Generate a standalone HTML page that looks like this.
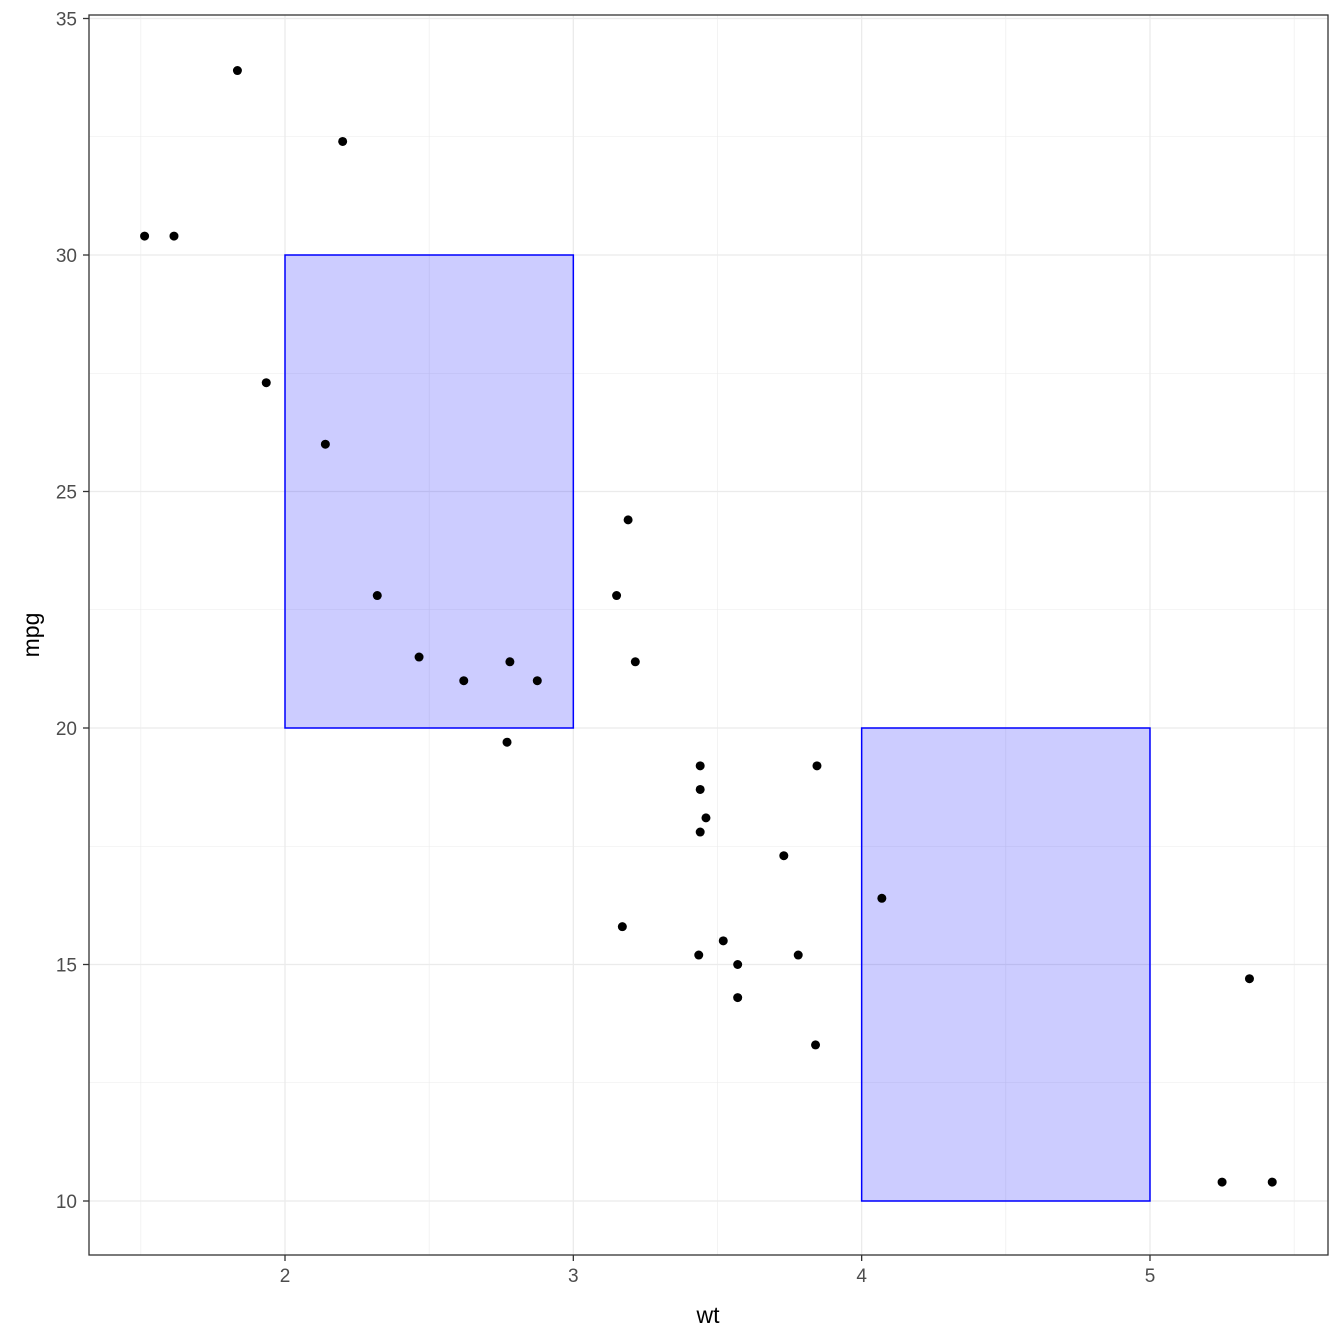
<!DOCTYPE html>
<html><head><meta charset="utf-8"><style>
body{margin:0;background:#fff}
svg{display:block;font-family:"Liberation Sans",sans-serif}
</style></head><body>
<svg id="chart" width="1344" height="1344" viewBox="0 0 1344 1344" xmlns="http://www.w3.org/2000/svg">
<rect x="0" y="0" width="1344" height="1344" fill="#fff"/>
<g id="grid"></g>
<g id="rects"></g>
<g id="points"></g>
<rect x="89" y="15" width="1239" height="1240" fill="none" stroke="#333" stroke-width="1.3"/>
<g id="axes"></g>
<text x="708" y="1323" font-size="23" text-anchor="middle" fill="#000">wt</text>
<text transform="translate(39,635) rotate(-90)" font-size="23" text-anchor="middle" fill="#000">mpg</text>
</svg>
<script>
const wt=[2.620,2.875,2.320,3.215,3.440,3.460,3.570,3.190,3.150,3.440,3.440,4.070,3.730,3.780,5.250,5.424,5.345,2.200,1.615,1.835,2.465,3.520,3.435,3.840,3.845,1.935,2.140,1.513,3.170,2.770,3.570,2.780];
const mpg=[21.0,21.0,22.8,21.4,18.7,18.1,14.3,24.4,22.8,19.2,17.8,16.4,17.3,15.2,10.4,10.4,14.7,32.4,30.4,33.9,21.5,15.5,15.2,13.3,19.2,27.3,26.0,30.4,15.8,19.7,15.0,21.4];
const rectX1=[2,4];
const rectX2=[3,5];
const rectY1=[20,10];
const rectY2=[30,20];
const xTicks=[2,3,4,5];
const xMinor=[1.5,2.5,3.5,4.5,5.5];
const yTicks=[10,15,20,25,30,35];
const yMinor=[12.5,17.5,22.5,27.5,32.5];
const L=89,R=1328,T=15,B=1255;
const px=x=>285+(x-2)*288.33;
const py=y=>1201-(y-10)*47.3;
const NS="http://www.w3.org/2000/svg";
function mk(tag,parent,attrs){const e=document.createElementNS(NS,tag);for(const k in attrs)e.setAttribute(k,attrs[k]);document.getElementById(parent).appendChild(e);return e;}
xMinor.forEach(v=>{const e=mk('line','grid',{x1:px(v),x2:px(v),y1:T,y2:B,stroke:'#ebebeb','stroke-width':0.6});

});
yMinor.forEach(v=>{const e=mk('line','grid',{x1:L,x2:R,y1:py(v),y2:py(v),stroke:'#ebebeb','stroke-width':0.6});

});
xTicks.forEach(v=>{const e=mk('line','grid',{x1:px(v),x2:px(v),y1:T,y2:B,stroke:'#ebebeb','stroke-width':1.3});


const t=mk('line','axes',{x1:px(v),x2:px(v),y1:B,y2:B+6,stroke:'#333','stroke-width':1.3});


const l=mk('text','axes',{x:px(v),y:B+27,'font-size':19,'text-anchor':'middle',fill:'#4d4d4d'});
l.textContent=v;

});
yTicks.forEach(v=>{const e=mk('line','grid',{x1:L,x2:R,y1:py(v),y2:py(v),stroke:'#ebebeb','stroke-width':1.3});


const t=mk('line','axes',{x1:L-6,x2:L,y1:py(v),y2:py(v),stroke:'#333','stroke-width':1.3});


const l=mk('text','axes',{x:L-12,y:py(v)+7,'font-size':19,'text-anchor':'end',fill:'#4d4d4d'});
l.textContent=v;

});
rectX1.forEach((x1,i)=>{const e=mk('rect','rects',{x:px(x1),y:py(rectY2[i]),width:px(rectX2[i])-px(x1),height:py(rectY1[i])-py(rectY2[i]),fill:'rgba(0,0,255,0.2)',stroke:'#0000ff','stroke-width':1.5});

});
wt.forEach((x,i)=>{const e=mk('circle','points',{cx:px(x),cy:py(mpg[i]),r:4.5,fill:'#000'});

});
</script>
</body></html>
